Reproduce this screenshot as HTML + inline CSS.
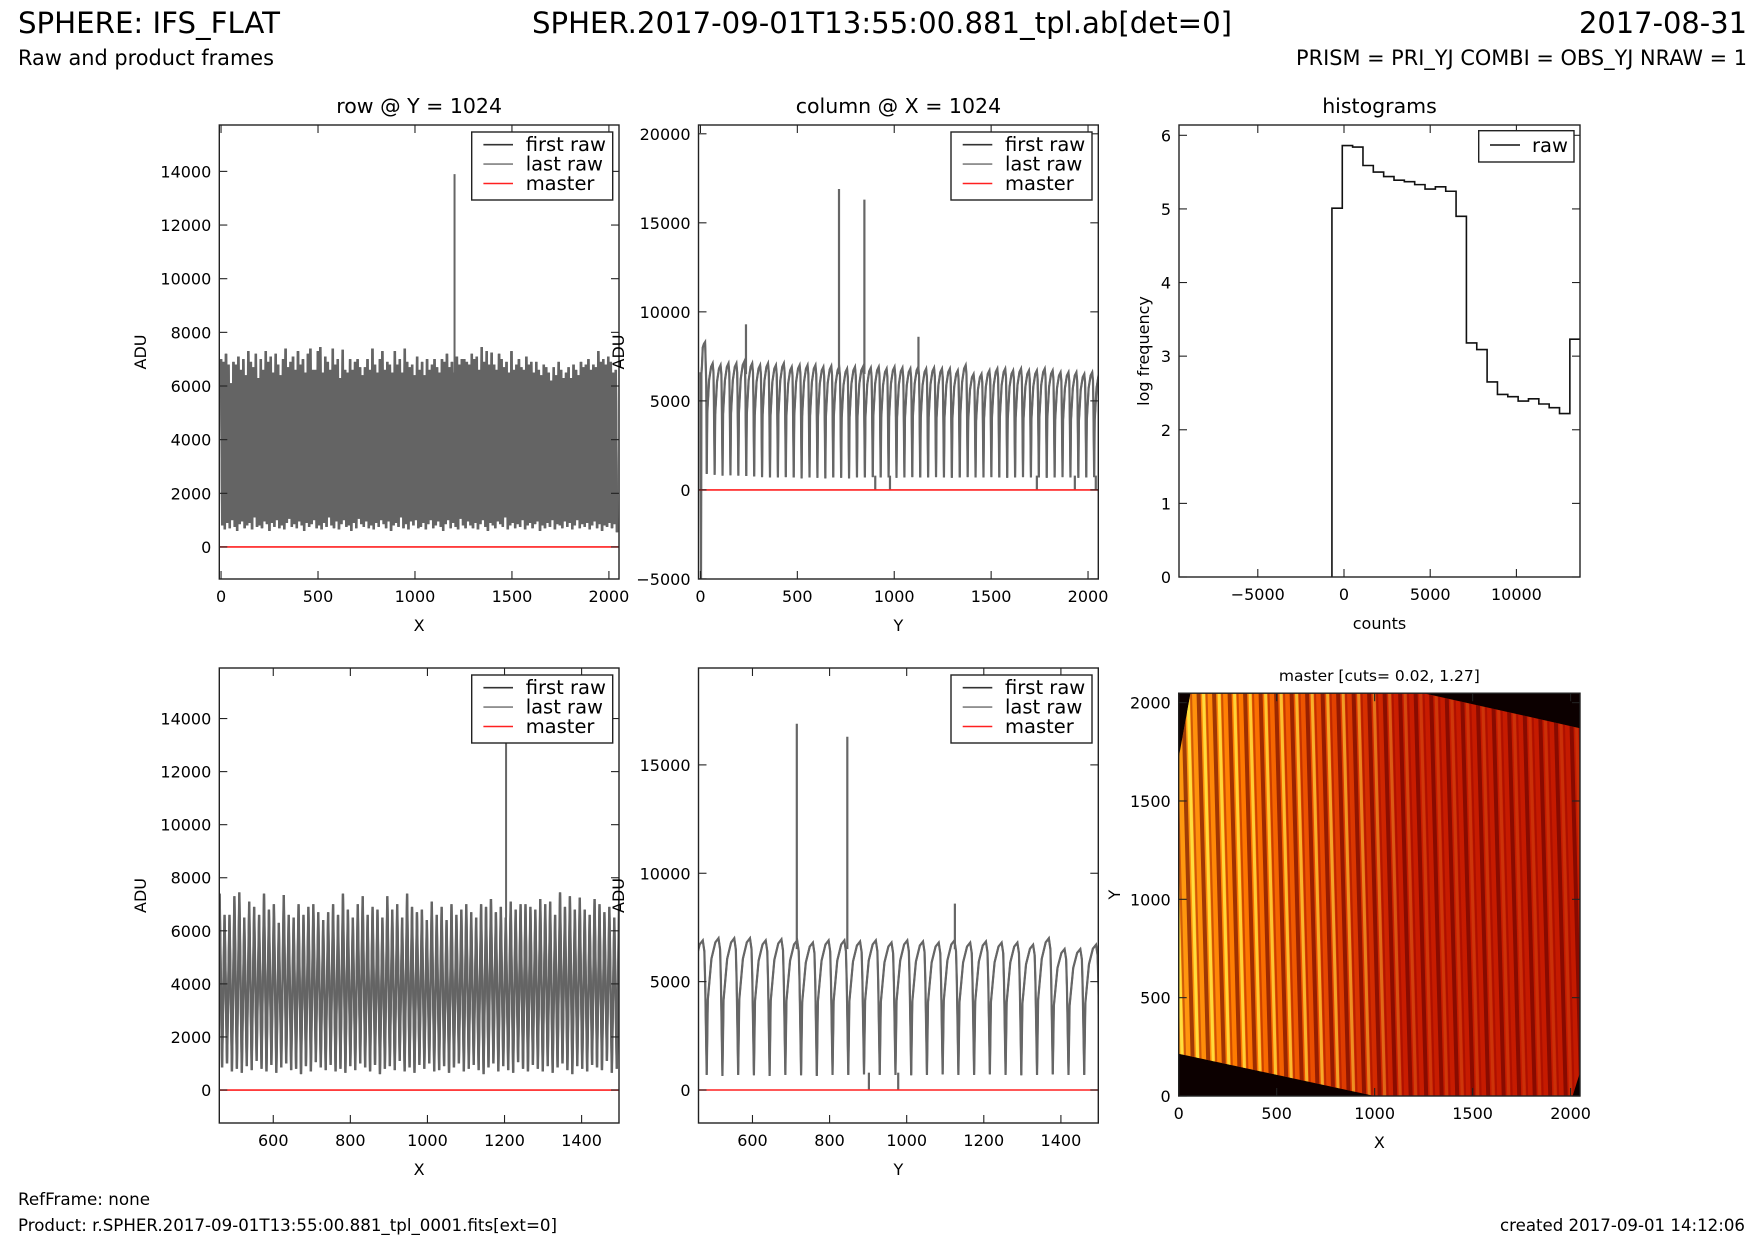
<!DOCTYPE html>
<html><head><meta charset="utf-8"><style>
html,body{margin:0;padding:0;background:#fff}
svg{display:block;font-family:"DejaVu Sans","Liberation Sans",sans-serif}
</style></head><body>
<svg id="fig" xmlns="http://www.w3.org/2000/svg" width="1755" height="1245" viewBox="0 0 1755 1245">
<defs>
<linearGradient id="hmGrad" x1="0" y1="0" x2="1" y2="0">
<stop offset="0" stop-color="#ff9a10"/><stop offset="0.15" stop-color="#ff7a00"/><stop offset="0.35" stop-color="#e84a00"/><stop offset="0.55" stop-color="#c81c00"/><stop offset="1" stop-color="#c41a00"/>
</linearGradient>
<linearGradient id="yelGrad" x1="0" y1="0" x2="1" y2="0">
<stop offset="0" stop-color="#fff" stop-opacity="1"/><stop offset="0.4" stop-color="#fff" stop-opacity="0.6"/><stop offset="0.6" stop-color="#fff" stop-opacity="0.15"/><stop offset="1" stop-color="#fff" stop-opacity="0.1"/>
</linearGradient>
<mask id="yelMask"><rect x="1178.7" y="693.2" width="401.3" height="402.8" fill="url(#yelGrad)"/></mask>
<pattern id="darkStripes" patternUnits="userSpaceOnUse" width="15.5" height="20" patternTransform="rotate(-1.5)">
<rect x="0" y="0" width="4" height="20" fill="#600000" fill-opacity="0.6"/>
<rect x="9" y="0" width="2" height="20" fill="#8a0000" fill-opacity="0.4"/>
</pattern>
<pattern id="yelStripes" patternUnits="userSpaceOnUse" width="15.5" height="20" patternTransform="rotate(-1.5)">
<rect x="5.5" y="0" width="3" height="20" fill="#ffe040"/>
</pattern>
</defs>
<g>
<text x="18" y="33" font-size="29" textLength="262" lengthAdjust="spacingAndGlyphs">SPHERE: IFS_FLAT</text>
<text x="18" y="65" font-size="21" textLength="256" lengthAdjust="spacingAndGlyphs">Raw and product frames</text>
<text x="882" y="33" font-size="29" text-anchor="middle" textLength="700" lengthAdjust="spacingAndGlyphs">SPHER.2017-09-01T13:55:00.881_tpl.ab[det=0]</text>
<text x="1747" y="33" font-size="29" text-anchor="end" textLength="168" lengthAdjust="spacingAndGlyphs">2017-08-31</text>
<text x="1747" y="65" font-size="21" text-anchor="end" textLength="451" lengthAdjust="spacingAndGlyphs">PRISM = PRI_YJ COMBI = OBS_YJ NRAW = 1</text>
</g>
<g>
<text x="18" y="1205" font-size="17" textLength="132" lengthAdjust="spacingAndGlyphs">RefFrame: none</text>
<text x="18" y="1231" font-size="17" textLength="539" lengthAdjust="spacingAndGlyphs">Product: r.SPHER.2017-09-01T13:55:00.881_tpl_0001.fits[ext=0]</text>
<text x="1745" y="1231" font-size="17" text-anchor="end" textLength="245" lengthAdjust="spacingAndGlyphs">created 2017-09-01 14:12:06</text>
</g>
</svg>
<script>
// ---------- data ----------
const rowStep = 12.8;
const rowHigh = [7000,6900,7200,6800,6100,6900,6800,7100,6600,7000,
6400,7300,6900,6700,7200,6300,7000,6600,7300,6900,
7100,6500,7200,6800,6400,7000,7400,6700,6900,7100,
6600,7300,6800,7000,6500,7200,7400,6600,6600,7300,
7450,6500,7100,6900,6600,7400,6800,7000,6300,7350,
6600,6500,7000,6600,6900,7000,6700,6400,6700,7000,
6600,7400,6800,6500,7000,7300,6600,6900,6800,6500,
7300,6800,7000,6500,7400,6900,6700,6800,6400,7100,
6600,6900,6400,7000,6600,6800,7000,6700,6500,7000,
6900,7200,6700,6900,6500,7100,6800,7000,7000,6900,
6800,7200,7000,7100,6600,7450,6900,7300,6800,7250,
6800,6600,7200,7000,6700,6900,6500,7300,6600,6800,
7000,6700,6600,7100,6800,6900,6500,6900,6600,6400,
6800,6700,6500,6200,6700,6400,6900,6600,6300,6500,
6700,6300,6800,6600,6400,6900,6700,6800,7000,6600,
6800,6700,7300,6900,7000,6800,7100,6900,6500,6600];
const rowLow = [800,650,900,700,1000,750,600,850,950,700,
800,900,650,1100,750,800,700,950,850,600,
900,750,1000,700,800,650,900,1050,750,850,
700,950,800,600,900,750,850,1000,700,800,
650,900,750,1100,800,700,950,650,850,1000,
750,800,600,900,700,1050,850,750,950,700,
800,650,900,750,1000,850,700,950,600,800,
900,750,1100,700,850,650,950,800,1000,700,
750,900,650,850,1000,700,800,950,750,600,
850,1000,700,900,750,650,1050,800,700,950,
800,700,900,650,850,1000,750,600,900,800,
700,950,850,750,1100,650,800,900,700,850,
750,1000,650,800,900,700,850,950,600,800,
700,900,750,1000,650,850,800,700,950,750,
900,650,800,1000,700,850,750,900,650,800,
950,700,850,600,800,750,900,700,850,550];
const rowSpikeX = [1204];
const rowSpikeV = [13900];
const masterValue = 0;

const colLeadY = [0, 3, 5, 8, 12, 18, 24, 30, 32.5];
const colLeadV = [6600, -5000, 6500, 7000, 8000, 8200, 8300, 6000, 900];
const colStart = 32.5;
const colPeriod = 40.8;
const colPeaks = [7100,7000,7100,7100,7200,7100,7000,7100,7000,7100,
6900,7000,7000,7000,6900,6950,6900,6800,6900,6900,
6850,6900,6800,6900,6850,6800,6900,6800,6850,6800,
6800,6700,7000,6500,6500,6700,6800,6800,6700,6800,
6700,6700,6800,6700,6600,6600,6600,6500,6600,6600];
const colTroughs = [900,850,800,820,800,780,750,720,700,700,
720,700,650,700,680,650,700,680,650,700,
700,720,700,700,680,700,720,700,700,720,
700,680,700,720,700,700,720,700,680,700,
720,700,700,680,700,720,700,680,700,720];
const colSpikeY = [235, 715, 846, 1125];
const colSpikeV = [9300, 16900, 16300, 8600];
const colDipY = [902, 978, 1736, 1932, 2040];
const colDipV = [0, 0, 0, 0, 0];

const histStart = -700;
const histWidth = 600;
const histLogFreq = [5.01,5.86,5.84,5.59,5.50,5.44,5.39,5.37,5.33,5.27,5.30,5.24,4.90,3.18,3.09,2.65,2.48,2.45,2.39,2.42,2.35,2.30,2.22,3.23];

const hmOutlineX = [0, 1000, 2010, 2048, 2048, 1250, 60, 0];
const hmOutlineY = [215, 0, 0, 120, 1870, 2048, 2048, 1720];

const ticksRowY = [0,2000,4000,6000,8000,10000,12000,14000];
const ticksFullX = [0,500,1000,1500,2000];
const ticksColY = [-5000,0,5000,10000,15000,20000];
const ticksHistX = [-5000,0,5000,10000];
const ticksHistY = [0,1,2,3,4,5,6];
const ticksZoomX = [600,800,1000,1200,1400];
const ticksZoomColY = [0,5000,10000,15000];
const ticksHm = [0,500,1000,1500,2000];

// ---------- helpers ----------
const NS = "http://www.w3.org/2000/svg";
const svg = document.getElementById('fig');
function el(tag, attrs, parent){
  const e = document.createElementNS(NS, tag);
  for (const k in attrs) e.setAttribute(k, attrs[k]);
  (parent||svg).appendChild(e);
  return e;
}
function fmt(v){ return v < 0 ? '\u2212' + Math.abs(v) : String(v); }
let clipN = 0;
function makeAxes(c){
  const sx = v => c.l + (v - c.x0) / (c.x1 - c.x0) * (c.r - c.l);
  const sy = v => c.b - (v - c.y0) / (c.y1 - c.y0) * (c.b - c.t);
  const g = el('g', {});
  
  
  const id = 'clip' + (clipN++);
  const cp = el('clipPath', {id: id}, g);
  el('rect', {x: c.l, y: c.t, width: c.r - c.l, height: c.b - c.t}, cp);
  const plot = el('g', {'clip-path': 'url(#' + id + ')'}, g);
  
  
  return {sx, sy, g, plot, c};
}
function finishAxes(A, xt, yt, xlabel, ylabel, title, ylabX){
  const c = A.c, g = A.g;
  const tg = el('g', {stroke: '#222', 'stroke-width': 1.1}, g);
  xt.forEach(v => {
    const x = A.sx(v);
    el('line', {x1: x, y1: c.b, x2: x, y2: c.b - 8}, tg);
    el('line', {x1: x, y1: c.t, x2: x, y2: c.t + 8}, tg);
    const t = el('text', {x: x, y: c.b + 23, 'font-size': 16, 'text-anchor': 'middle', fill: '#000'}, g);
    
    
    t.textContent = fmt(v);
  });
  yt.forEach(v => {
    const y = A.sy(v);
    el('line', {x1: c.l, y1: y, x2: c.l + 8, y2: y}, tg);
    el('line', {x1: c.r, y1: y, x2: c.r - 8, y2: y}, tg);
    const t = el('text', {x: c.l - 8, y: y + 6, 'font-size': 16, 'text-anchor': 'end', fill: '#000'}, g);
    
    
    t.textContent = fmt(v);
  });
  const fr = el('rect', {x: c.l, y: c.t, width: c.r - c.l, height: c.b - c.t, fill: 'none', stroke: '#222', 'stroke-width': 1.4}, g);
  
  
  const xl = el('text', {x: (c.l + c.r) / 2, y: c.b + 52, 'font-size': 16, 'text-anchor': 'middle'}, g);
  
  
  xl.textContent = xlabel;
  const cy = (c.t + c.b) / 2;
  const yl = el('text', {x: ylabX, y: cy, 'font-size': 16, 'text-anchor': 'middle', transform: 'rotate(-90 ' + ylabX + ' ' + cy + ')', dy: 6}, g);
  
  
  yl.textContent = ylabel;
  if (title){
    const tt = el('text', {x: (c.l + c.r) / 2, y: c.t - 12, 'font-size': title.size, 'text-anchor': 'middle'}, g);
    
    
    tt.textContent = title.text;
  }
}
function legend3(A){
  const c = A.c;
  const g = el('g', {}, A.g);
  
  
  const bl = c.r - 147.3, bt = c.t + 7;
  el('rect', {x: bl, y: bt, width: 141, height: 68, fill: '#fff', stroke: '#222', 'stroke-width': 1.4}, g);
  const items = [['first raw', '#333'], ['last raw', '#808080'], ['master', '#ff2020']];
  items.forEach((it, i) => {
    const y = bt + 12.7 + i * 19.4;
    const e = el('g', {}, g);
    
    
    el('line', {x1: bl + 11.7, y1: y, x2: bl + 41.3, y2: y, stroke: it[1], 'stroke-width': 1.6}, e);
    const t = el('text', {x: bl + 54, y: y + 6.5, 'font-size': 19.5}, e);
    t.textContent = it[0];
  });
}
function drawRow(A, name, lw){
  let pts = [];
  for (let i = 0; i < rowHigh.length; i++){
    pts.push(A.sx(i * rowStep).toFixed(2) + ',' + A.sy(rowHigh[i]).toFixed(2));
    pts.push(A.sx(i * rowStep + rowStep / 2).toFixed(2) + ',' + A.sy(rowLow[i]).toFixed(2));
  }
  const first = el('polyline', {points: pts.join(' '), fill: 'none', stroke: '#333', 'stroke-width': lw - 0.3}, A.plot);
  
  
  const last = el('polyline', {points: pts.join(' '), fill: 'none', stroke: '#646464', 'stroke-width': lw, 'stroke-linejoin': 'bevel'}, A.plot);
  
  
  rowSpikeX.forEach((x, i) => {
    const s = el('line', {x1: A.sx(x), x2: A.sx(x), y1: A.sy(6500), y2: A.sy(rowSpikeV[i]), stroke: '#666', 'stroke-width': 2}, A.plot);
    
    
  });
  const m = el('line', {x1: A.c.l, x2: A.c.r, y1: A.sy(masterValue), y2: A.sy(masterValue), stroke: '#ff2020', 'stroke-width': 1.6}, A.plot);
  
  
}
const colShapeF = [0, 0.07, 0.3, 0.55, 0.75, 0.85, 0.9, 1.0];
const colShapeA = [0, 0.55, 0.85, 0.97, 1.0, 0.92, 0.7, 0];
function drawCol(A, name){
  let pts = [];
  for (let i = 0; i < colLeadY.length; i++) pts.push(A.sx(colLeadY[i]).toFixed(2) + ',' + A.sy(colLeadV[i]).toFixed(2));
  for (let k = 0; k < colPeaks.length; k++){
    const t0 = colStart + k * colPeriod;
    const lo = colTroughs[k], hi = colPeaks[k];
    const loNext = k + 1 < colTroughs.length ? colTroughs[k + 1] : lo;
    for (let j = 1; j < colShapeF.length; j++){
      const base = j === colShapeF.length - 1 ? loNext : lo;
      const v = base + colShapeA[j] * (hi - base);
      pts.push(A.sx(t0 + colShapeF[j] * colPeriod).toFixed(2) + ',' + A.sy(v).toFixed(2));
    }
  }
  const first = el('polyline', {points: pts.join(' '), fill: 'none', stroke: '#333', 'stroke-width': 1.8}, A.plot);
  
  
  const last = el('polyline', {points: pts.join(' '), fill: 'none', stroke: '#666', 'stroke-width': 2.2}, A.plot);
  
  
  colSpikeY.forEach((y, i) => {
    const s = el('line', {x1: A.sx(y), x2: A.sx(y), y1: A.sy(6500), y2: A.sy(colSpikeV[i]), stroke: '#666', 'stroke-width': 2.2}, A.plot);
    
    
  });
  colDipY.forEach((y, i) => {
    const s = el('line', {x1: A.sx(y), x2: A.sx(y), y1: A.sy(800), y2: A.sy(colDipV[i]), stroke: '#666', 'stroke-width': 2.2}, A.plot);
    
    
  });
  const m = el('line', {x1: A.c.l, x2: A.c.r, y1: A.sy(masterValue), y2: A.sy(masterValue), stroke: '#ff2020', 'stroke-width': 1.6}, A.plot);
  
  
}

// ---------- row plot (top) ----------
const A1 = makeAxes({name: 'row-plot', l: 219.3, r: 619, t: 125, b: 579, x0: -9, x1: 2052, y0: -1194, y1: 15729});
drawRow(A1, 'row', 2.6);
finishAxes(A1, ticksFullX, ticksRowY, 'X', 'ADU', {text: 'row @ Y = 1024', size: 20.5}, 140);
legend3(A1);

// ---------- column plot (top) ----------
const A2 = makeAxes({name: 'column-plot', l: 698.5, r: 1098.3, t: 125, b: 579, x0: -10, x1: 2053, y0: -5004, y1: 20494});
drawCol(A2, 'column');
finishAxes(A2, ticksFullX, ticksColY, 'Y', 'ADU', {text: 'column @ X = 1024', size: 20.5}, 618);
legend3(A2);

// ---------- histogram ----------
const A3 = makeAxes({name: 'histogram-plot', l: 1179, r: 1580, t: 125, b: 577, x0: -9570, x1: 13688, y0: 0, y1: 6.14});
(function(){
  let d = 'M' + A3.sx(histStart) + ',' + A3.sy(0);
  histLogFreq.forEach((v, i) => {
    const x0 = histStart + i * histWidth, x1 = x0 + histWidth;
    d += ' L' + A3.sx(x0).toFixed(2) + ',' + A3.sy(v).toFixed(2) + ' L' + A3.sx(x1).toFixed(2) + ',' + A3.sy(v).toFixed(2);
  });
  const p = el('path', {d: d, fill: 'none', stroke: '#111', 'stroke-width': 1.6}, A3.plot);
  
  
})();
finishAxes(A3, ticksHistX, ticksHistY, 'counts', 'log frequency', {text: 'histograms', size: 20.5}, 1143);
(function(){
  const g = el('g', {}, A3.g);
  
  
  el('rect', {x: 1478.7, y: 130.7, width: 95.3, height: 31.3, fill: '#fff', stroke: '#222', 'stroke-width': 1.4}, g);
  el('line', {x1: 1490, y1: 145, x2: 1520, y2: 145, stroke: '#111', 'stroke-width': 1.6}, g);
  const t = el('text', {x: 1532, y: 152, 'font-size': 19.5}, g);
  t.textContent = 'raw';
})();

// ---------- row zoom (bottom) ----------
const A4 = makeAxes({name: 'row-zoom-plot', l: 219.3, r: 619, t: 668, b: 1123, x0: 460, x1: 1497, y0: -1243, y1: 15905});
drawRow(A4, 'row-zoom', 2.4);
finishAxes(A4, ticksZoomX, ticksRowY, 'X', 'ADU', null, 140);
legend3(A4);

// ---------- column zoom (bottom) ----------
const A5 = makeAxes({name: 'column-zoom-plot', l: 698.5, r: 1098.3, t: 668, b: 1123, x0: 460, x1: 1497, y0: -1522, y1: 19470});
drawCol(A5, 'column-zoom');
finishAxes(A5, ticksZoomX, ticksZoomColY, 'Y', 'ADU', null, 618);
legend3(A5);

// ---------- master image ----------
const A6 = makeAxes({name: 'master-image', l: 1178.7, r: 1580, t: 693.2, b: 1096, x0: 0, x1: 2048, y0: 0, y1: 2048});
(function(){
  const c = A6.c;
  const bg = el('rect', {x: c.l, y: c.t, width: c.r - c.l, height: c.b - c.t, fill: '#0c0000'}, A6.plot);
  
  
  const pts = hmOutlineX.map((x, i) => A6.sx(x).toFixed(1) + ',' + A6.sy(hmOutlineY[i]).toFixed(1)).join(' ');
  const cid = 'hmClip';
  const cp = el('clipPath', {id: cid}, A6.g);
  el('polygon', {points: pts}, cp);
  const ig = el('g', {'clip-path': 'url(#' + cid + ')'}, A6.plot);
  
  
  el('rect', {x: c.l, y: c.t, width: c.r - c.l, height: c.b - c.t, fill: 'url(#hmGrad)'}, ig);
  el('rect', {x: c.l, y: c.t, width: c.r - c.l, height: c.b - c.t, fill: 'url(#yelStripes)', mask: 'url(#yelMask)'}, ig);
  el('rect', {x: c.l, y: c.t, width: c.r - c.l, height: c.b - c.t, fill: 'url(#darkStripes)'}, ig);
})();
finishAxes(A6, ticksHm, ticksHm, 'X', 'Y', {text: 'master [cuts= 0.02, 1.27]', size: 15.5}, 1114);
</script>
</body></html>
